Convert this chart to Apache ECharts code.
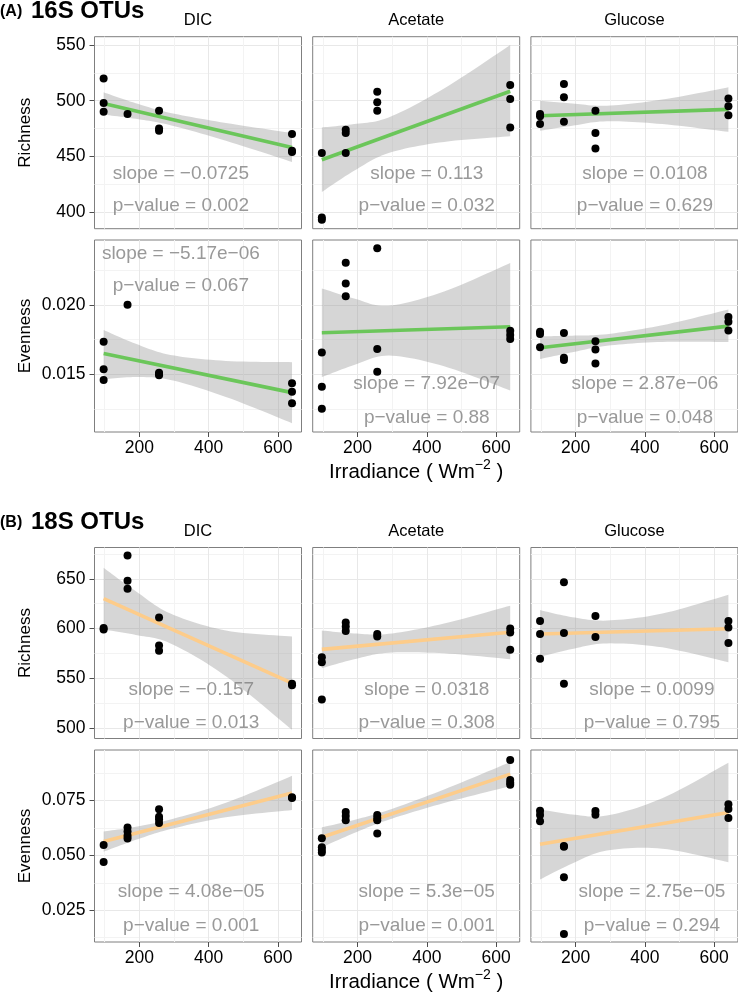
<!DOCTYPE html>
<html><head><meta charset="utf-8">
<script src="https://cdn.jsdelivr.net/npm/echarts@6/dist/echarts.min.js"></script>
<style>html,body{margin:0;padding:0;background:#fff}#c{width:738px;height:999px}</style>
</head><body><div id="c"></div>
<script>
// ---------------- data ----------------
const conditions = ['DIC', 'Acetate', 'Glucose'];
const sectionTags = ['(A)', '(B)'];
const sectionNames = ['16S OTUs', '18S OTUs'];
const metricNames = ['Richness', 'Evenness'];

const xRange = [70.6, 668.4];
const xTicks = [200, 400, 600];
const xMinor = [100, 300, 500];
const bandX = [97, 190, 290, 450, 641];
const fitX = [97, 641];

// y axes (rows): 16S richness, 16S evenness, 18S richness, 18S evenness
const yRange16R = [385, 557.5];
const yTicks16R = [400, 450, 500, 550];
const yMinor16R = [425, 475, 525];
const yRange16E = [0.01084, 0.02469];
const yTicks16E = [0.015, 0.020];
const yMinor16E = [0.0125, 0.0175, 0.0225];
const yRange18R = [489.3, 681.5];
const yTicks18R = [500, 550, 600, 650];
const yMinor18R = [525, 575, 625, 675];
const yRange18E = [0.0105, 0.0981];
const yTicks18E = [0.025, 0.050, 0.075];
const yMinor18E = [0.0125, 0.0375, 0.0625, 0.0875];

// 16S richness
const pts16R_DIC = [[97,520],[97,498],[97,490],[166,488],[257,491],[257,475],[257,473],[641,470],[641,455],[641,454]];
const pts16R_Ace = [[97,453],[97,395],[97,393],[166,474],[166,471],[166,453],[257,508],[257,498.5],[257,491],[641,514],[641,501.5],[641,476]];
const pts16R_Glu = [[97,488],[97,486],[97,479],[166,515],[166,503],[166,481],[257,491],[257,471],[257,457],[641,502],[641,495],[641,487]];
const fit16R_DIC = [497.5, 458];
const fit16R_Ace = [447, 508.5];
const fit16R_Glu = [486.5, 492.2];
const lo16R_DIC = [487.5, 483.7, 478, 464, 445];
const hi16R_DIC = [507.5, 497.7, 489, 480, 471];
const lo16R_Ace = [418, 437, 453, 463, 468];
const hi16R_Ace = [476, 479, 485, 511, 550];
const lo16R_Glu = [473, 477.5, 481.5, 479, 472];
const hi16R_Glu = [500, 497.5, 495.5, 501, 512];

// 16S evenness
const pts16E_DIC = [[97,0.01735],[97,0.01536],[97,0.01459],[166,0.02002],[257,0.01512],[257,0.01493],[257,0.01502],[641,0.01435],[641,0.01375],[641,0.01291]];
const pts16E_Ace = [[97,0.01658],[97,0.01411],[97,0.01252],[166,0.02305],[166,0.02156],[166,0.02063],[257,0.02409],[257,0.01683],[257,0.01519],[641,0.01815],[641,0.01784],[641,0.01755]];
const pts16E_Glu = [[97,0.01808],[97,0.01791],[97,0.01695],[166,0.01798],[166,0.0162],[166,0.01603],[257,0.01738],[257,0.0168],[257,0.01579],[641,0.01913],[641,0.0188],[641,0.01817]];
const fit16E_DIC = [0.0165, 0.01368];
const fit16E_Ace = [0.0180, 0.01843];
const fit16E_Glu = [0.01692, 0.01848];
const lo16E_DIC = [0.01465, 0.0148, 0.0146, 0.01337, 0.01148];
const hi16E_DIC = [0.0182, 0.0172, 0.0164, 0.01597, 0.01588];
const lo16E_Ace = [0.0148, 0.01567, 0.01635, 0.01558, 0.01383];
const hi16E_Ace = [0.0212, 0.02047, 0.01995, 0.02098, 0.02303];
const lo16E_Glu = [0.0161, 0.01659, 0.01706, 0.01734, 0.01733];
const hi16E_Glu = [0.01774, 0.01779, 0.0179, 0.01854, 0.01967];

// 18S richness
const pts18R_DIC = [[97,600.5],[97,599],[166,673.5],[166,648],[166,640],[257,611],[257,583],[257,577.5],[641,544.5],[641,543]];
const pts18R_Ace = [[97,571],[97,566],[97,528.5],[166,606],[166,602],[166,597.5],[257,594.5],[257,592],[641,600],[641,596],[641,578.5]];
const pts18R_Glu = [[97,607.5],[97,594.5],[97,569.5],[166,646.5],[166,595.5],[166,544.5],[257,612.5],[257,591.5],[641,607.5],[641,601],[641,585.5]];
const fit18R_DIC = [630, 545];
const fit18R_Ace = [579, 596.3];
const fit18R_Glu = [594.5, 599.8];
const lo18R_DIC = [599, 593.5, 585, 552, 498];
const hi18R_DIC = [661, 637.5, 615, 598, 592];
const lo18R_Ace = [560, 569, 575.6, 575, 569];
const hi18R_Ace = [598, 595, 594.6, 605, 623];
const lo18R_Glu = [571.5, 579.4, 585, 581, 566];
const hi18R_Glu = [618.5, 611.4, 608, 615, 634];

// 18S evenness
const pts18E_DIC = [[97,0.0548],[97,0.0470],[166,0.0627],[166,0.0609],[166,0.0590],[166,0.0577],[257,0.0711],[257,0.0677],[257,0.0665],[257,0.0648],[641,0.0765],[641,0.0762]];
const pts18E_Ace = [[97,0.0578],[97,0.0537],[97,0.0525],[97,0.0513],[166,0.0698],[166,0.0680],[166,0.0660],[257,0.0685],[257,0.0671],[257,0.0660],[257,0.0600],[641,0.0935],[641,0.0844],[641,0.0832],[641,0.0823]];
const pts18E_Glu = [[97,0.0704],[97,0.0685],[97,0.0656],[166,0.0543],[166,0.0540],[166,0.0400],[166,0.0142],[257,0.0703],[257,0.0686],[641,0.0733],[641,0.0712],[641,0.0671]];
const fit18E_DIC = [0.0563, 0.0785];
const fit18E_Ace = [0.0583, 0.0871];
const fit18E_Glu = [0.0551, 0.0696];
const lo18E_DIC = [0.0517, 0.0571, 0.062, 0.0674, 0.0707];
const hi18E_DIC = [0.0609, 0.0631, 0.0664, 0.074, 0.0863];
const lo18E_Ace = [0.0537, 0.0602, 0.0663, 0.0739, 0.0816];
const hi18E_Ace = [0.0628, 0.0662, 0.0707, 0.0801, 0.0926];
const lo18E_Glu = [0.039, 0.0463, 0.0522, 0.0531, 0.0469];
const hi18E_Glu = [0.071, 0.0687, 0.0682, 0.0761, 0.0923];

// annotations
const slopes = [
  ['slope = \u22120.0725', 'slope = 0.113', 'slope = 0.0108'],
  ['slope = \u22125.17e\u221206', 'slope = 7.92e\u221207', 'slope = 2.87e\u221206'],
  ['slope = \u22120.157', 'slope = 0.0318', 'slope = 0.0099'],
  ['slope = 4.08e\u221205', 'slope = 5.3e\u221205', 'slope = 2.75e\u221205']
];
const pvalues = [
  ['p\u2212value = 0.002', 'p\u2212value = 0.032', 'p\u2212value = 0.629'],
  ['p\u2212value = 0.067', 'p\u2212value = 0.88', 'p\u2212value = 0.048'],
  ['p\u2212value = 0.013', 'p\u2212value = 0.308', 'p\u2212value = 0.795'],
  ['p\u2212value = 0.001', 'p\u2212value = 0.001', 'p\u2212value = 0.294']
];
const labelX = [[320, 400, 400], [320, 400, 400], [350, 400, 420], [350, 400, 420]];
const labelY = [
  [[434.8, 405.7], [434.8, 405.7], [434.8, 405.7]],
  [[0.02368, 0.02137], [0.01435, 0.0119], [0.01435, 0.0119]],
  [[538, 505], [538, 505], [538, 505]],
  [[0.0332, 0.0180], [0.0332, 0.0180], [0.0332, 0.0180]]
];

// ---------------- layout / style ----------------
const FONT = '"Liberation Sans", Arial, Helvetica, sans-serif';
const colLeft = [94.5, 312.7, 530.9];
const colW = 207;
const rowTop = [36.7, 240, 547.5, 750];
const rowH = [192, 192, 191, 192];
const lineColors = ['#6bc65a', '#fdcc8a'];
const bandColor = 'rgba(153,153,153,0.4)';

const rows = [
  {range: yRange16R, ticks: yTicks16R, minor: yMinor16R, dec: 0, name: metricNames[0],
   pts: [pts16R_DIC, pts16R_Ace, pts16R_Glu], fit: [fit16R_DIC, fit16R_Ace, fit16R_Glu],
   lo: [lo16R_DIC, lo16R_Ace, lo16R_Glu], hi: [hi16R_DIC, hi16R_Ace, hi16R_Glu], sec: 0, bottom: false},
  {range: yRange16E, ticks: yTicks16E, minor: yMinor16E, dec: 3, name: metricNames[1],
   pts: [pts16E_DIC, pts16E_Ace, pts16E_Glu], fit: [fit16E_DIC, fit16E_Ace, fit16E_Glu],
   lo: [lo16E_DIC, lo16E_Ace, lo16E_Glu], hi: [hi16E_DIC, hi16E_Ace, hi16E_Glu], sec: 0, bottom: true},
  {range: yRange18R, ticks: yTicks18R, minor: yMinor18R, dec: 0, name: metricNames[0],
   pts: [pts18R_DIC, pts18R_Ace, pts18R_Glu], fit: [fit18R_DIC, fit18R_Ace, fit18R_Glu],
   lo: [lo18R_DIC, lo18R_Ace, lo18R_Glu], hi: [hi18R_DIC, hi18R_Ace, hi18R_Glu], sec: 1, bottom: false},
  {range: yRange18E, ticks: yTicks18E, minor: yMinor18E, dec: 3, name: metricNames[1],
   pts: [pts18E_DIC, pts18E_Ace, pts18E_Glu], fit: [fit18E_DIC, fit18E_Ace, fit18E_Glu],
   lo: [lo18E_DIC, lo18E_Ace, lo18E_Glu], hi: [hi18E_DIC, hi18E_Ace, hi18E_Glu], sec: 1, bottom: true}
];

// smooth curve through pixel points (rendering only, like smooth:true)
function smoothEdge(p, n) {
  const out = [];
  for (let i = 0; i < p.length - 1; i++) {
    const p0 = p[Math.max(i - 1, 0)], p1 = p[i], p2 = p[i + 1], p3 = p[Math.min(i + 2, p.length - 1)];
    for (let t = 0; t < n; t++) {
      const s = t / n, s2 = s * s, s3 = s2 * s;
      const f = k => 0.5 * (2 * p1[k] + (-p0[k] + p2[k]) * s + (2 * p0[k] - 5 * p1[k] + 4 * p2[k] - p3[k]) * s2 + (-p0[k] + 3 * p1[k] - 3 * p2[k] + p3[k]) * s3);
      out.push([f(0), f(1)]);
    }
  }
  out.push(p[p.length - 1]);
  return out;
}

const grids = [], xAxes = [], yAxes = [], series = [];
rows.forEach((row, r) => {
  for (let c = 0; c < 3; c++) {
    const k = grids.length;
    grids.push({left: colLeft[c], top: rowTop[r], width: colW, height: rowH[r],
      show: true, borderColor: '#7f7f7f', borderWidth: 1, backgroundColor: '#fff'});
    const xName = (row.bottom && c === 1) ? 'Irradiance ( Wm{sup|\u22122} )' : '';
    xAxes.push({type: 'value', gridIndex: k, min: xRange[0], max: xRange[1],
      name: xName, nameLocation: 'middle', nameGap: 25,
      nameTextStyle: {fontFamily: FONT, fontSize: 20.5, color: '#000', lineHeight: 28,
        rich: {sup: {fontFamily: FONT, fontSize: 14, lineHeight: 14, verticalAlign: 'top', color: '#000'}}},
      axisLine: {show: false},
      axisTick: {show: row.bottom, customValues: xTicks, length: 5, lineStyle: {color: '#4d4d4d'}},
      axisLabel: {show: row.bottom, customValues: xTicks, fontFamily: FONT, fontSize: 17.5, color: '#000', margin: 7},
      splitLine: {show: true, lineStyle: {color: '#e8e8e8', width: 1}}});
    xAxes.push({type: 'value', gridIndex: k, min: xRange[0], max: xRange[1],
      axisLine: {show: false}, axisTick: {show: false, customValues: xMinor},
      axisLabel: {show: false}, splitLine: {show: true, lineStyle: {color: '#f3f3f3', width: 1}}});
    yAxes.push({type: 'value', gridIndex: k, min: row.range[0], max: row.range[1],
      name: c === 0 ? row.name : '', nameLocation: 'middle', nameGap: 61,
      nameTextStyle: {fontFamily: FONT, fontSize: 17, color: '#000'},
      axisLine: {show: false},
      axisTick: {show: c === 0, customValues: row.ticks, length: 5, lineStyle: {color: '#4d4d4d'}},
      axisLabel: {show: c === 0, customValues: row.ticks, fontFamily: FONT, fontSize: 17.5, color: '#000', margin: 9,
        formatter: v => v.toFixed(row.dec)},
      splitLine: {show: true, lineStyle: {color: '#e8e8e8', width: 1}}});
    yAxes.push({type: 'value', gridIndex: k, min: row.range[0], max: row.range[1],
      axisLine: {show: false}, axisTick: {show: false, customValues: row.minor},
      axisLabel: {show: false}, splitLine: {show: true, lineStyle: {color: '#f3f3f3', width: 1}}});

    const xi = 2 * k, yi = 2 * k;
    const lo = row.lo[c], hi = row.hi[c];
    series.push({type: 'custom', xAxisIndex: xi, yAxisIndex: yi, silent: true, z: 2,
      data: bandX.map((x, i) => [x, lo[i], hi[i]]), encode: {x: 0, y: [1, 2]},
      renderItem: function (params, api) {
        if (params.dataIndex !== 0) return null;
        const up = bandX.map((x, i) => api.coord([x, hi[i]]));
        const dn = bandX.map((x, i) => api.coord([x, lo[i]]));
        const p = smoothEdge(up, 12).concat(smoothEdge(dn, 12).reverse());
        return {type: 'polygon', shape: {points: p}, style: {fill: bandColor}};
      }});
    series.push({type: 'line', xAxisIndex: xi, yAxisIndex: yi, silent: true, z: 3,
      data: fitX.map((x, i) => [x, row.fit[c][i]]), showSymbol: false, symbol: 'none',
      lineStyle: {color: lineColors[row.sec], width: 3.6}});
    series.push({type: 'scatter', xAxisIndex: xi, yAxisIndex: yi, silent: true, z: 4,
      data: row.pts[c], symbolSize: 8, itemStyle: {color: '#000', opacity: 1}});
    series.push({type: 'scatter', xAxisIndex: xi, yAxisIndex: yi, silent: true, z: 5,
      symbolSize: 1, itemStyle: {color: 'rgba(0,0,0,0)'},
      data: [
        {name: slopes[r][c], value: [labelX[r][c], labelY[r][c][0]]},
        {name: pvalues[r][c], value: [labelX[r][c], labelY[r][c][1]]}
      ],
      label: {show: true, position: 'inside', formatter: '{b}', fontFamily: FONT, fontSize: 19, color: '#808080'}});
  }
});

// titles and strip labels
const graphics = [];
const secTop = [0, 511];
for (let s = 0; s < 2; s++) {
  graphics.push({type: 'text', x: 0, y: 12 + secTop[s],
    style: {text: sectionTags[s], font: 'bold 16px ' + FONT, fill: '#000', textVerticalAlign: 'middle'}});
  graphics.push({type: 'text', x: 31, y: 11.5 + secTop[s],
    style: {text: sectionNames[s], font: 'bold 24px ' + FONT, fill: '#000', textVerticalAlign: 'middle'}});
  for (let c = 0; c < 3; c++) {
    graphics.push({type: 'text', x: colLeft[c] + colW / 2, y: (s === 0 ? 20.7 : 531),
      style: {text: conditions[c], font: '16.5px ' + FONT, fill: '#000', textAlign: 'center', textVerticalAlign: 'middle'}});
  }
}

const chart = echarts.init(document.getElementById('c'), null, {renderer: 'canvas'});
chart.setOption({
  animation: false,
  backgroundColor: '#fff',
  grid: grids, xAxis: xAxes, yAxis: yAxes, series: series,
  graphic: graphics
});
</script></body></html>
